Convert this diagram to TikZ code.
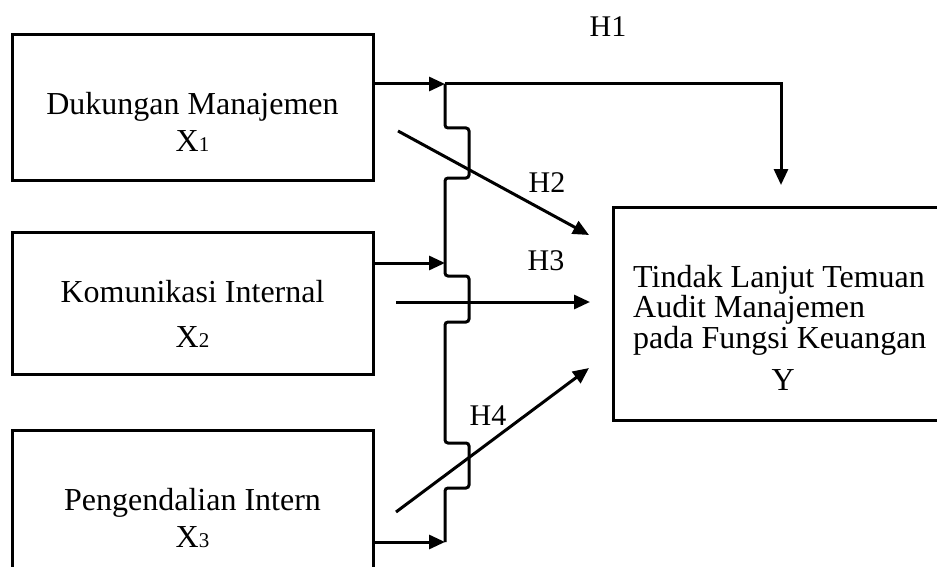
\documentclass[tikz,border=0pt]{standalone}
\usepackage{fontspec}
\setmainfont{Liberation Serif}
\usetikzlibrary{arrows.meta,positioning,calc}

\newcommand\varidx[1]{{\fontsize{21}{21}\selectfont #1}}

\begin{document}
\begin{tikzpicture}[x=1pt,y=-1pt,>={Triangle[length=16pt,width=14pt]},
  varbox/.style={draw,line width=3pt,inner sep=0pt},
  vartext/.style={align=center,inner sep=0pt,anchor=base,font=\fontsize{32}{37}\selectfont},
  hlabel/.style={inner sep=0pt,font=\fontsize{30}{30}\selectfont},
  link/.style={line width=3pt}]
  \useasboundingbox (0,0) rectangle (937,567);
  \clip (0,0) rectangle (937,567);
  % kotak variabel
  \node[varbox,minimum width=361pt,minimum height=145pt] (x1) at (192.5,107.5) {};
  \node[varbox,minimum width=361pt,minimum height=142pt] (x2) at (192.5,303) {};
  \node[varbox,minimum width=361pt,minimum height=150pt] (x3) at (192.5,505) {};
  \node[varbox,minimum width=337pt,minimum height=213pt] (y) at (781.5,313.5) {};
  \node[vartext] (x1t) at (192.5,152) {Dukungan Manajemen\\X\varidx{1}};
  \node[vartext,font=\fontsize{32}{45}\selectfont] (x2t) at (192.5,347) {Komunikasi Internal\\X\varidx{2}};
  \node[vartext] (x3t) at (192.5,547) {Pengendalian Intern\\X\varidx{3}};
  \node[vartext,align=left,anchor=base west,font=\fontsize{32}{29}\selectfont] (yt) at (633,390)
    {Tindak Lanjut Temuan\\Audit Manajemen\\pada Fungsi Keuangan\\[13pt]\makebox[300pt]{Y}};
  % titik pada garis vertikal
  \coordinate (b1) at (445,84);
  \coordinate (b2) at (445,263);
  \coordinate (b3) at (445,542);
  \coordinate (h1end) at (781,185);
  \coordinate (h2s) at (398,131);
  \coordinate (h2e) at (589,235);
  \coordinate (h3s) at (396,302);
  \coordinate (h3e) at (590,302);
  \coordinate (h4s) at (396,512);
  \coordinate (h4e) at (589,368);
  % garis vertikal dengan lompatan
  \draw[link,rounded corners=3pt] (b1) -- (445,128) -- (469,128) -- (469,178) -- (445,178)
    -- (b2) -- (445,276) -- (469,276) -- (469,322) -- (445,322)
    -- (445,443) -- (469,443) -- (469,488) -- (445,488) -- (b3);
  \draw[link,->] (x1.east |- b1) -- (b1);
  \draw[link,->] (x2.east |- b2) -- (b2);
  \draw[link,->] (x3.east |- b3) -- (b3);
  \draw[link,->] (b1) -| (h1end);
  \draw[link,->] (h2s) -- (h2e);
  \draw[link,->] (h3s) -- (h3e);
  \draw[link,->] (h4s) -- (h4e);
  % label hipotesis
  \node[hlabel] (h1) at (608,27) {H1};
  \node[hlabel] (h2) at (547,183) {H2};
  \node[hlabel] (h3) at (546,261) {H3};
  \node[hlabel] (h4) at (488,416) {H4};
\end{tikzpicture}
\end{document}
